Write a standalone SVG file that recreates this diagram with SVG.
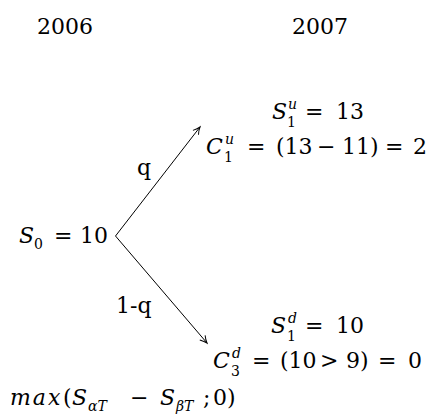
<svg xmlns="http://www.w3.org/2000/svg" width="434" height="419" viewBox="0 0 434 419">
<style>
text{font-family:'DejaVu Serif',serif;font-size:22px;fill:#000}
.i{font-style:italic}
.s{font-size:14px}
.c{stroke:#000;stroke-width:1;fill:none}
</style>
<defs>
<marker id="ah" viewBox="-8 -5 10 10" markerWidth="10" markerHeight="10" refX="0" refY="0" orient="auto" markerUnits="userSpaceOnUse">
<path d="M-7,-3.5 Q-3,-0.8 0,0 Q-3,0.8 -7,3.5" fill="none" stroke="#000" stroke-width="1"/>
</marker>
</defs>
<rect width="434" height="419" fill="#fff"/>
<g id="years">
<text x="37" y="34">2006</text>
<text x="292" y="34">2007</text>
</g>
<g id="connectors">
<line class="c" x1="115.5" y1="236" x2="200" y2="127" marker-end="url(#ah)"/>
<line class="c" x1="115.5" y1="236" x2="207" y2="343" marker-end="url(#ah)"/>
<text x="137" y="175">q</text>
<text x="116" y="313">1-q</text>
</g>
<g id="node-s0">
<text y="243"><tspan x="19" class="i">S</tspan><tspan x="34" y="249" class="s">0</tspan><tspan x="54" y="243">=</tspan><tspan x="80">10</tspan></text>
</g>
<g id="node-up">
<text y="119"><tspan x="272" class="i">S</tspan><tspan x="288" y="109" class="s i">u</tspan><tspan x="287" y="127" class="s">1</tspan><tspan x="305" y="119">=</tspan><tspan x="336">13</tspan></text>
<text y="154"><tspan x="206" class="i">C</tspan><tspan x="225" y="144" class="s i">u</tspan><tspan x="224" y="162" class="s">1</tspan><tspan x="247" y="154">=</tspan><tspan x="276">(13</tspan><tspan x="317">−</tspan><tspan x="342">11)</tspan><tspan x="385">=</tspan><tspan x="413">2</tspan></text>
</g>
<g id="node-down">
<text y="333"><tspan x="271" class="i">S</tspan><tspan x="288" y="323" class="s i">d</tspan><tspan x="287" y="341" class="s">1</tspan><tspan x="305" y="333">=</tspan><tspan x="336">10</tspan></text>
<text y="368"><tspan x="213" class="i">C</tspan><tspan x="232" y="358" class="s i">d</tspan><tspan x="231" y="376" class="s">3</tspan><tspan x="252" y="368">=</tspan><tspan x="280">(10</tspan><tspan x="320">&gt;</tspan><tspan x="346">9)</tspan><tspan x="378">=</tspan><tspan x="408">0</tspan></text>
</g>
<g id="formula">
<text y="405"><tspan x="10" class="i" letter-spacing="2">max</tspan><tspan x="63">(</tspan><tspan x="72" class="i">S</tspan><tspan x="88" y="411" class="s i">αT</tspan><tspan x="130" y="405">−</tspan><tspan x="160" class="i">S</tspan><tspan x="176" y="411" class="s i">βT</tspan><tspan x="203" y="405">;</tspan><tspan x="213">0)</tspan></text>
</g>
</svg>
